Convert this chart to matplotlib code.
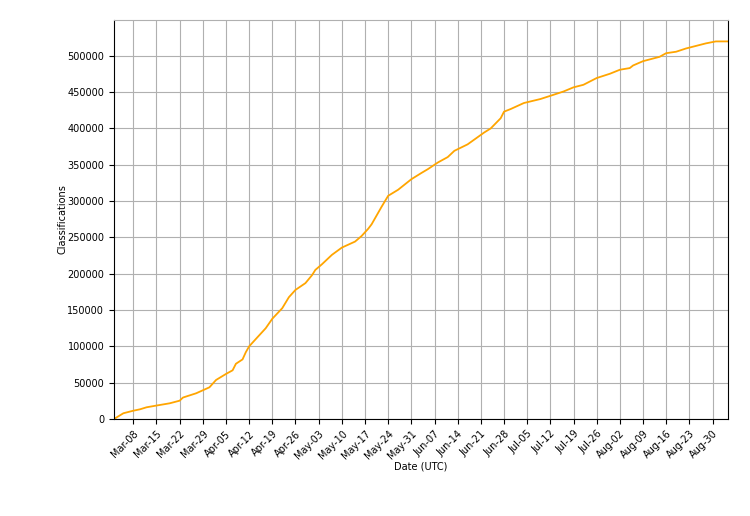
import pandas as pd
import matplotlib
matplotlib.use('Agg')
import matplotlib.pyplot as plt
import matplotlib.dates as mdates

# Cumulative classifications
dates = ['2020-03-02 04:00', '2020-03-05', '2020-03-08', '2020-03-10', '2020-03-12',
         '2020-03-15', '2020-03-19', '2020-03-22', '2020-03-23', '2020-03-24',
         '2020-03-27', '2020-03-31', '2020-04-02', '2020-04-05', '2020-04-07',
         '2020-04-08', '2020-04-10', '2020-04-11', '2020-04-12', '2020-04-14',
         '2020-04-17', '2020-04-19', '2020-04-22', '2020-04-24', '2020-04-26',
         '2020-04-29', '2020-05-01', '2020-05-02', '2020-05-04', '2020-05-07',
         '2020-05-10', '2020-05-14', '2020-05-16', '2020-05-18', '2020-05-19',
         '2020-05-22', '2020-05-24', '2020-05-27', '2020-05-31', '2020-06-03',
         '2020-06-05', '2020-06-08', '2020-06-11', '2020-06-13', '2020-06-17',
         '2020-06-19', '2020-06-22', '2020-06-24', '2020-06-27', '2020-06-28',
         '2020-06-30', '2020-07-04', '2020-07-09', '2020-07-13', '2020-07-16',
         '2020-07-19', '2020-07-22', '2020-07-26', '2020-07-30', '2020-08-02',
         '2020-08-05', '2020-08-06', '2020-08-09', '2020-08-14', '2020-08-16',
         '2020-08-19', '2020-08-22', '2020-08-25', '2020-08-28', '2020-08-31',
         '2020-09-03 18:00']
classifications = [0, 7900, 11400, 13300, 16100,
                   18500, 21600, 25200, 29500, 31000,
                   35400, 43600, 53700, 62000, 67000,
                   76000, 82000, 92000, 100000, 110000,
                   124900, 138000, 152500, 167600, 177700,
                   187000, 198000, 205200, 213000, 225900,
                   235900, 244200, 252000, 262000, 268000,
                   292000, 307200, 315500, 330000, 338500,
                   343900, 353000, 360500, 369100, 378000,
                   384500, 394300, 400000, 414000, 423000,
                   426600, 434900, 440400, 446300, 450800,
                   456500, 460000, 469300, 475200, 480700,
                   483000, 486600, 492500, 498500, 503500,
                   505500, 510000, 513500, 517000, 519700,
                   519700]

x = pd.to_datetime(dates, format='mixed')

fig = plt.figure(figsize=(7.5, 5.16), dpi=100)
ax = fig.add_axes([0.152, 0.188, 0.819, 0.773])

ax.plot(x, classifications, color='orange', linewidth=1.3)

ax.set_xlim(x[0], x[-1])
ax.set_ylim(0, 549000)
ax.xaxis.set_major_locator(mdates.WeekdayLocator(byweekday=mdates.SU))
ax.xaxis.set_major_formatter(mdates.DateFormatter('%b-%d'))
ax.set_yticks(range(0, 550000, 50000))
ax.grid(True, color='#b0b0b0', linewidth=0.8)
ax.spines['top'].set_color('#b0b0b0')
ax.tick_params(labelsize=7)
plt.setp(ax.get_xticklabels(), rotation=45, ha='right', rotation_mode='anchor')
ax.set_xlabel('Date (UTC)', size=7, labelpad=0)
ax.set_ylabel('Classifications', size=7, labelpad=0)

fig.savefig('out.png', dpi=100)
